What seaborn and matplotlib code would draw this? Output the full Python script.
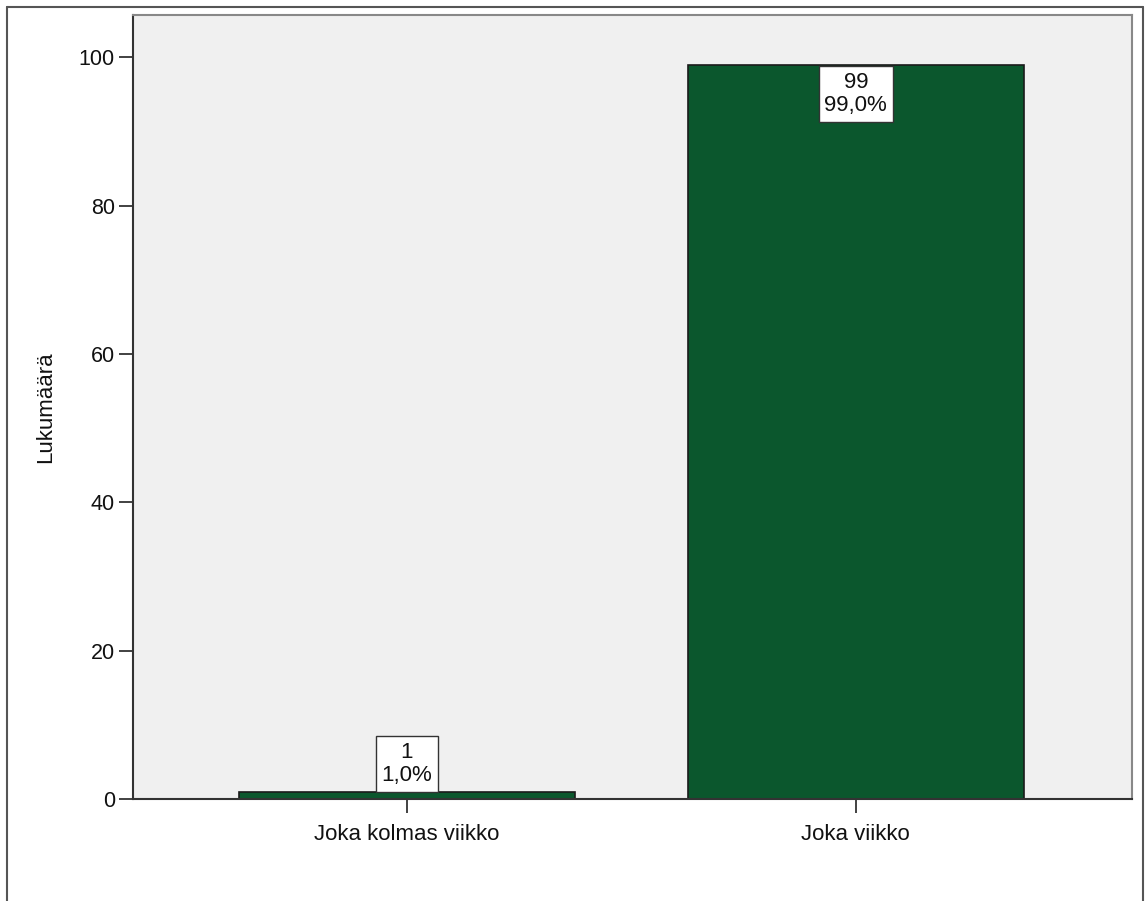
import numpy as np
import pandas as pd
import matplotlib
matplotlib.use("Agg")
import matplotlib.pyplot as plt
from matplotlib.lines import Line2D
import seaborn as sns

# data
categories = ["Joka kolmas viikko", "Joka viikko"]
counts = [1, 99]
percents = [1.0, 99.0]

df = pd.DataFrame({"vastaus": categories, "lkm": counts})

sns.set_style("white")
plt.rcParams['font.family'] = ['Liberation Sans', 'DejaVu Sans']
plt.rcParams['text.color'] = "#111111"

fig = plt.figure(figsize=(11.46, 9.01), dpi=100)
ax = fig.add_axes([133 / 1146, 1 - 799 / 901, (1132 - 133) / 1146, (799 - 15) / 901])
ax.set_facecolor("#f0f0f0")

sns.barplot(data=df, x="vastaus", y="lkm", color="#0b572d", width=0.75,
            saturation=1, edgecolor="#1a1a1a", linewidth=1.2, ax=ax)

ax.set_xlim(-0.61, 1.615)
ax.set_ylim(0, 105.7)
ax.set_yticks([0, 20, 40, 60, 80, 100])
ax.set_xlabel("")
ax.set_ylabel("Lukumäärä", fontsize=16, labelpad=16, color="#111111")
ax.tick_params(axis="both", direction="out", length=10, width=1.3, color="#333333",
               labelcolor="#111111", left=True, bottom=True)
ax.tick_params(axis="y", labelsize=15.5, pad=3)
ax.tick_params(axis="x", labelsize=16, pad=8)

for side in ["left", "bottom"]:
    ax.spines[side].set_color("#333333")
    ax.spines[side].set_linewidth(1.5)
for side in ["top", "right"]:
    ax.spines[side].set_color("#888888")
    ax.spines[side].set_linewidth(1.5)

# boxed value labels
for i, (c, p) in enumerate(zip(counts, percents)):
    txt = f"{c}\n{p:.1f}%".replace(".", ",")
    if c > 50:
        ax.annotate(txt, (i, c), xytext=(0, -5), textcoords="offset points",
                    ha="center", va="top", fontsize=16, linespacing=1.15,
                    bbox=dict(boxstyle="square,pad=0.25", fc="white", ec="#333333", lw=1))
    else:
        ax.annotate(txt, (i, c), xytext=(0, 4), textcoords="offset points",
                    ha="center", va="bottom", fontsize=16, linespacing=1.15,
                    bbox=dict(boxstyle="square,pad=0.25", fc="white", ec="#333333", lw=1))

# outer frame (open at the bottom)
x0, x1, yt = 7 / 1146, 1143 / 1146, 1 - 7 / 901
fig.add_artist(Line2D([x0, x1], [yt, yt], color="#555555", lw=1.5, transform=fig.transFigure))
fig.add_artist(Line2D([x0, x0], [0, yt], color="#555555", lw=1.5, transform=fig.transFigure))
fig.add_artist(Line2D([x1, x1], [0, yt], color="#555555", lw=1.5, transform=fig.transFigure))

fig.savefig("out.png", dpi=100, facecolor="white")
